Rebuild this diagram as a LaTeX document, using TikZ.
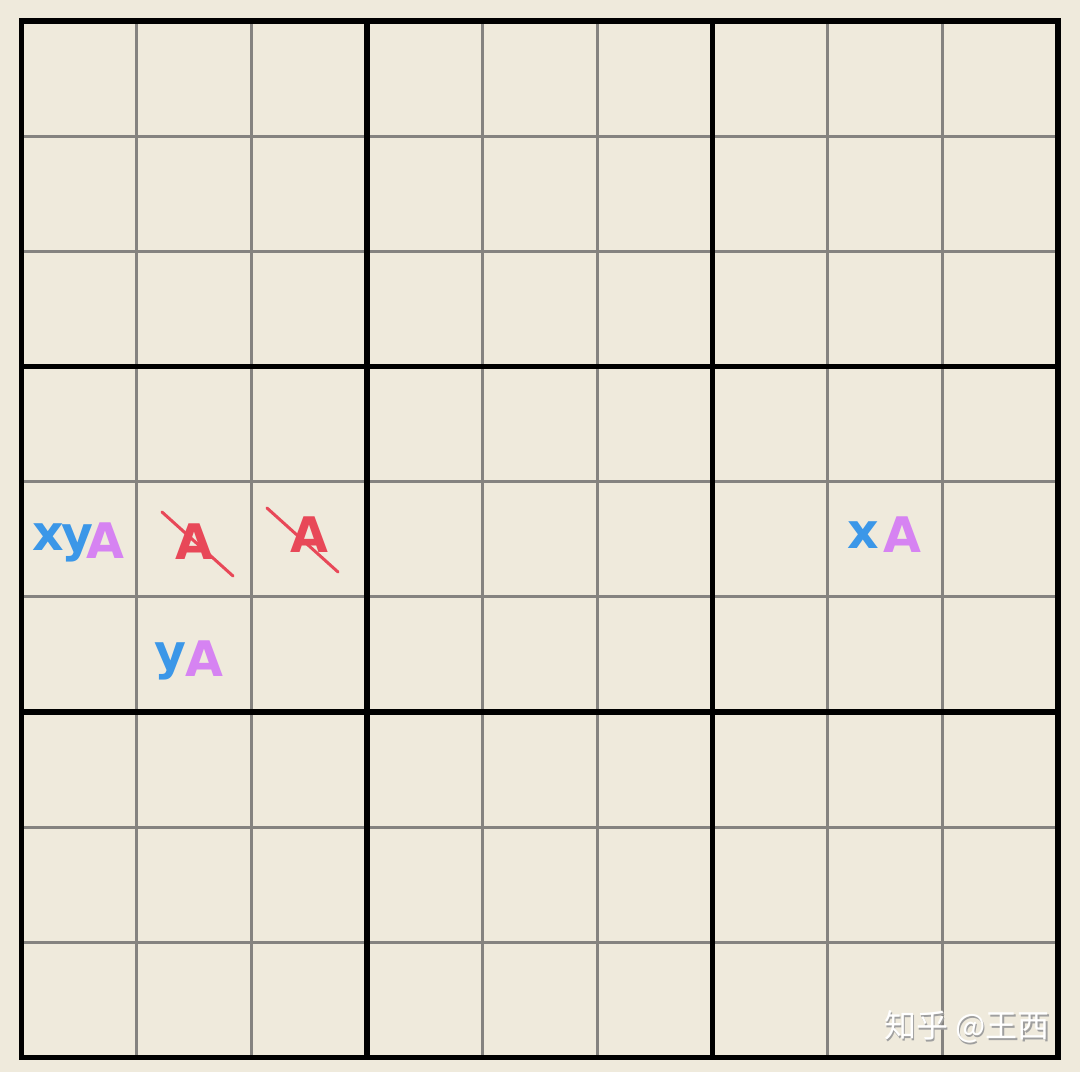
\documentclass[tikz,border=0pt]{standalone}
\usepackage{fontspec}
\newfontfamily\lblfont{DejaVu Sans}[BoldFont={DejaVu Sans Bold}]
\newfontfamily\cjkfont{Noto Sans CJK SC}
\definecolor{bgc}{HTML}{EFEADC}
\definecolor{gridgray}{HTML}{858380}
\definecolor{lblue}{HTML}{3B97E8}
\definecolor{lpurple}{HTML}{D683F2}
\definecolor{lred}{HTML}{E84858}
\tikzset{
  thin grid/.style={draw=gridgray, line width=2.8pt},
  thick grid/.style={draw=black, line width=5.5pt, line cap=rect},
  glyph/.style={inner sep=0pt, outer sep=0pt, font=\lblfont\bfseries\fontsize{49}{49}\selectfont},
  bluel/.style={glyph, text=lblue},
  purpl/.style={glyph, text=lpurple},
  redl/.style={glyph, text=lred},
  strike/.style={draw=lred, line width=3pt, line cap=round},
  wm/.style={inner sep=0pt, font=\cjkfont\fontsize{32}{32}\selectfont}
}
\begin{document}
\begin{tikzpicture}[x=1pt,y=-1pt]
\fill[bgc] (0,0) rectangle (1080,1072);
\useasboundingbox (0,0) rectangle (1080,1072);
\def\xo{21.5}\def\yo{21}\def\cs{115.17}
% thin lines
\foreach \i in {1,2,4,5,7,8}{
  \draw[thin grid] ({\xo+\i*\cs},\yo) -- ({\xo+\i*\cs},{\yo+9*\cs});
  \draw[thin grid] (\xo,{\yo+\i*\cs}) -- ({\xo+9*\cs},{\yo+\i*\cs});
}
% thick lines
\foreach \i in {0,3,6,9}{
  \draw[thick grid] ({\xo+\i*\cs},\yo) -- ({\xo+\i*\cs},{\yo+9*\cs});
  \draw[thick grid] (\xo,{\yo+\i*\cs}) -- ({\xo+9*\cs},{\yo+\i*\cs});
}
% row 5, col 1: xyA
\node[bluel] (x1) at (48,537.5) {x};
\node[bluel] (y1) at (77.5,543) {y};
\node[purpl] (a1) at (105,540.5) {A};
% crossed A's
\node[redl] (r1) at (194.5,541.5) {A};
\coordinate (s1a) at (162,512);
\coordinate (s1b) at (233,576);
\draw[strike] (s1a) -- (s1b);
\node[redl] (r2) at (309.5,535) {A};
\coordinate (s2a) at (267,508);
\coordinate (s2b) at (338,572);
\draw[strike] (s2a) -- (s2b);
% row 6, col 2: yA
\node[bluel] (y2) at (170,661.5) {y};
\node[purpl] (a2) at (204.5,659) {A};
% row 5, col 8: xA
\node[bluel] (x3) at (863,535) {x};
\node[purpl] (a3) at (902.5,535) {A};
% watermark
\node[wm, text=gray!75] (wms) at (968.5,1028.5) {知乎 @王西};
\node[wm, text=white] (wm) at (967,1027) {知乎 @王西};
\end{tikzpicture}
\end{document}
